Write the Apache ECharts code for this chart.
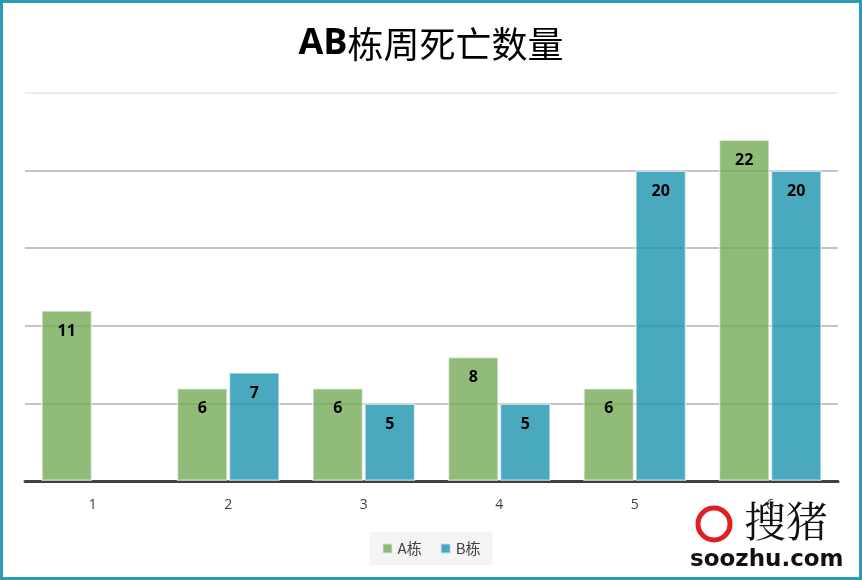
<!DOCTYPE html>
<html><head><meta charset="utf-8">
<script src="https://cdn.jsdelivr.net/npm/echarts@6/dist/echarts.min.js"></script>
<style>html,body{margin:0;padding:0;background:#fff}#c{width:862px;height:580px}</style>
</head><body><div id="c"></div>
<script>
const categories = ['1','2','3','4','5','6'];
const seriesA = [11, 6, 6, 8, 6, 22];
const seriesB = [null, 7, 5, 5, 20, 20];
const seriesNames = ['A栋','B栋'];
const titleText = 'AB栋周死亡数量';

const chart = echarts.init(document.getElementById('c'));
const labelCfg = {show:true, position:'insideTop', distance:13, color:'#000', fontWeight:'bold', fontSize:16, fontFamily:'Open Sans, Noto Sans, sans-serif'};
chart.setOption({
  animation:false,
  backgroundColor:'#fff',
  title:{text:'{b|AB}{n|栋周死亡数量}', left:'center', top:21,
    textStyle:{rich:{b:{fontSize:36,fontWeight:'bold',fontFamily:'Open Sans, Noto Sans, sans-serif',color:'#000'},
                     n:{fontSize:36,fontWeight:'normal',fontFamily:'Noto Sans CJK SC, sans-serif',color:'#000'}}}},
  legend:{data:seriesNames, bottom:15, left:'center', icon:'rect', itemWidth:10, itemHeight:10, itemGap:18,
    backgroundColor:'#f4f4f4', padding:[9,12,9,12],
    textStyle:{fontSize:15, color:'#404040', fontFamily:'Noto Sans CJK SC, sans-serif'}},
  grid:{left:25, right:24, top:93, bottom:99},
  xAxis:{type:'category', data:categories,
    axisLine:{lineStyle:{color:'#404040', width:3}},
    axisTick:{show:false},
    axisLabel:{fontSize:14, color:'#404040', margin:17, fontFamily:'Open Sans, sans-serif'}},
  yAxis:{type:'value', min:0, max:25, interval:5,
    axisLabel:{show:false}, axisLine:{show:false}, axisTick:{show:false},
    splitLine:{lineStyle:{color:['#b0b0b0','#b0b0b0','#b0b0b0','#b0b0b0','#b0b0b0','#e4e4e4'], width:1.5}}},
  series:[
    {name:seriesNames[0], type:'bar', data:seriesA, barGap:'2%', barCategoryGap:'24%',
     itemStyle:{color:'rgba(118,170,88,0.8)', borderColor:'rgba(255,255,255,0.6)', borderWidth:1.5},
     label:labelCfg},
    {name:seriesNames[1], type:'bar', data:seriesB,
     itemStyle:{color:'rgba(29,147,174,0.8)', borderColor:'rgba(255,255,255,0.6)', borderWidth:1.5},
     label:labelCfg}
  ],
  graphic:[
    {type:'rect', left:686, top:512, shape:{width:170, height:64}, style:{fill:'#fff'}, z:100},
    {type:'text', left:744, top:500, style:{text:'搜猪', font:'42px "Noto Serif CJK SC", "Noto Sans CJK SC", serif', fill:'#111'}, z:101},
    {type:'circle', shape:{cx:714, cy:524, r:16}, style:{fill:'none', stroke:'#e02020', lineWidth:5}, z:101},
    {type:'text', left:690, top:549, style:{text:'soozhu.com', font:'bold 23px "DejaVu Sans", sans-serif', fill:'#111'}, z:101},
    {type:'rect', shape:{x:1.5, y:1.5, width:859, height:577}, style:{fill:'none', stroke:'#2E9BB5', lineWidth:3}, z:200}
  ]
});
</script></body></html>
